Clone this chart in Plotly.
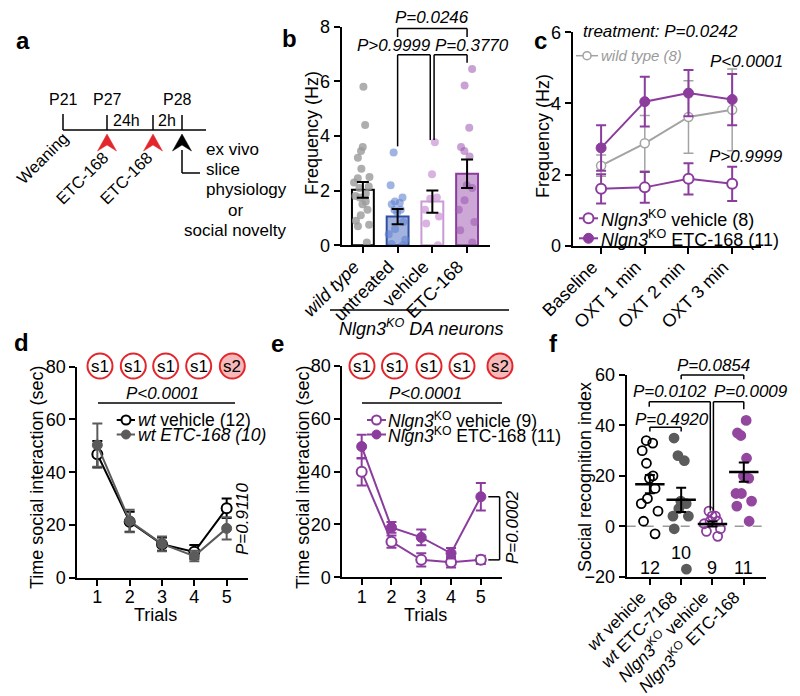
import plotly.graph_objects as go

W, H = 800, 696
FONT = "Liberation Sans, Arial, Helvetica, sans-serif"
GRAY = "#a3a3a3"
DGRAY = "#5b5b5b"
PURPLE = "#8b3c9d"
LPURPLE = "#c99bd5"
RED = "#e3262b"

# ---------------- data ----------------
# panel b
b_groups = ["<i>wild type</i>", "untreated", "vehicle", "ETC-168"]
b_mean = [2.03, 1.05, 1.60, 2.62]
b_sem = [0.29, 0.28, 0.41, 0.52]
b_wild_type = [5.8, 4.4, 3.6, 3.45, 3.2, 2.8, 2.5, 2.45, 2.3, 2.15, 2.1, 1.9,
               1.8, 1.75, 1.6, 1.5, 1.3, 1.1, 0.9, 0.75, 0.7, 0.1]
b_untreated = [3.4, 2.2, 1.75, 1.6, 1.55, 1.5, 1.3, 1.3, 1.2, 0.85, 0.6, 0.4, 0.2, 0.05, 0.0]
b_vehicle = [3.77, 2.6, 1.75, 1.7, 1.3, 1.05, 0.8, 0.0]
b_etc168 = [6.45, 5.85, 4.3, 3.6, 3.45, 3.25, 2.2, 2.1, 1.65, 1.3, 0.85, 0.55, 0.1]

# panel c
c_times = ["Baseline", "OXT 1 min", "OXT 2 min", "OXT 3 min"]
c_wt_mean = [2.25, 2.88, 3.62, 3.82]
c_wt_sem = [0.30, 0.78, 1.02, 1.15]
c_veh_mean = [1.60, 1.64, 1.88, 1.74]
c_veh_sem = [0.41, 0.43, 0.44, 0.48]
c_etc_mean = [2.75, 4.05, 4.29, 4.11]
c_etc_sem = [0.64, 0.70, 0.65, 0.72]

# panel d
trials = [1, 2, 3, 4, 5]
d_veh_mean = [46.8, 21.2, 12.7, 9.8, 26.3]
d_veh_sem = [5.0, 3.8, 2.5, 2.6, 3.7]
d_etc_mean = [50.3, 21.5, 12.8, 8.2, 18.7]
d_etc_sem = [8.2, 4.3, 2.8, 2.0, 4.2]

# panel e
e_veh_mean = [40.0, 13.5, 6.6, 5.7, 6.6]
e_veh_sem = [5.2, 2.3, 2.5, 2.0, 1.6]
e_etc_mean = [49.5, 18.9, 15.1, 9.1, 30.5]
e_etc_sem = [4.5, 2.0, 3.0, 2.0, 5.2]

# panel f
f_groups = ["<i>wt</i> vehicle", "<i>wt</i> ETC-7168",
            "<i>Nlgn3</i><sup>KO</sup> vehicle", "<i>Nlgn3</i><sup>KO</sup> ETC-168"]
f_wt_vehicle = [34, 33, 30, 25, 20, 19, 15, 11, 9, 6, 2, -3]
f_wt_etc = [35, 28, 26, 10, 9, 7, 4, 4, -1, -17]
f_ko_vehicle = [6, 4, 4, 2, 2, 1, -1, -2, -4]
f_ko_etc = [42, 37, 36, 27, 20, 19, 13, 13, 10, 8, 2]
f_mean = [16.7, 10.5, 0.9, 21.5]
f_sem = [3.6, 4.8, 1.0, 3.8]
f_n = ["12", "10", "9", "11"]


# ---------------- helpers ----------------
class Panel:
    def __init__(self, n, xpx, xr, ypx, yr):
        self.n = n
        self.xpx, self.xr, self.ypx, self.yr = xpx, xr, ypx, yr
        self.xa = "x" if n == 1 else f"x{n}"
        self.ya = "y" if n == 1 else f"y{n}"

    def X(self, v):
        (p0, p1), (r0, r1) = self.xpx, self.xr
        return p0 + (v - r0) / (r1 - r0) * (p1 - p0)

    def Y(self, v):
        (p0, p1), (r0, r1) = self.ypx, self.yr
        return p0 + (v - r0) / (r1 - r0) * (p1 - p0)


pb = Panel(1, (341.7, 490), (-0.61, 3.66), (245.3, 26.7), (0, 8))
pc = Panel(2, (572.7, 761), (-0.65, 3.66), (245.7, 32.3), (0, 6))
pd = Panel(3, (77.3, 248), (0.38, 5.66), (577.7, 366.7), (0, 80))
pe = Panel(4, (342.3, 501.7), (0.35, 5.7), (577.3, 366), (0, 80))
pf = Panel(5, (626.7, 765.7), (-0.74, 3.7), (576.7, 375), (-20, 60))

shapes = []
annotations = []


def P(x, y):
    return x / W, 1 - y / H


def line_px(x0, y0, x1, y1, color="black", width=1.5, dash=None, layer="above"):
    a, b = P(x0, y0)
    c, d = P(x1, y1)
    shapes.append(dict(type="line", xref="paper", yref="paper", x0=a, y0=b, x1=c, y1=d,
                       layer=layer, line=dict(color=color, width=width, dash=dash)))


def poly_px(points, color="black", width=1.5):
    for (x0, y0), (x1, y1) in zip(points[:-1], points[1:]):
        line_px(x0, y0, x1, y1, color=color, width=width)


def circle_px(cx, cy, r, color, fill="white", width=1.5):
    shapes.append(dict(type="circle", xref="paper", yref="paper",
                       x0=(cx - r) / W, x1=(cx + r) / W,
                       y0=1 - (cy + r) / H, y1=1 - (cy - r) / H,
                       fillcolor=fill, line=dict(color=color, width=width)))


def arrow_px(x, ytip, color):
    pts = [(x, ytip), (x + 9.5, ytip + 17), (x, ytip + 11), (x - 9.5, ytip + 17)]
    path = "M " + " L ".join(f"{px / W:.5f},{1 - py / H:.5f}" for px, py in pts) + " Z"
    shapes.append(dict(type="path", xref="paper", yref="paper", path=path,
                       fillcolor=color, line=dict(color=color, width=0.5)))


def text_px(x, y, s, size=17, xanchor="center", yanchor="middle", angle=0, color="black"):
    a, b = P(x, y)
    annotations.append(dict(xref="paper", yref="paper", x=a, y=b, text=s, showarrow=False,
                            xanchor=xanchor, yanchor=yanchor, textangle=angle,
                            font=dict(size=size, color=color, family=FONT)))


traces = []

# ---------------- panel b ----------------
b_idx = list(range(len(b_groups)))
traces.append(go.Bar(x=b_idx, y=b_mean, width=0.63, xaxis=pb.xa, yaxis=pb.ya,
                     marker=dict(color=["white", "#a2b3e0", "white", "#cda8d6"],
                                 line=dict(color=["black", "#2f4f9f", LPURPLE, PURPLE], width=2))))
b_pts = [(b_wild_type, "#9a9a9a", 0.8), (b_untreated, "#5f82d0", 0.6),
         (b_vehicle, "#cf9fdb", 0.8), (b_etc168, "#9c55b0", 0.55)]
for i, (vals, col, op) in enumerate(b_pts):
    traces.append(go.Box(x=[i] * len(vals), y=vals, boxpoints="all", jitter=1, pointpos=0,
                         width=0.62, fillcolor="rgba(0,0,0,0)", line=dict(width=0, color="rgba(0,0,0,0)"),
                         marker=dict(color=col, size=8, opacity=op), xaxis=pb.xa, yaxis=pb.ya))
traces.append(go.Scatter(x=b_idx, y=b_mean, mode="markers", marker=dict(size=1, color="rgba(0,0,0,0)"),
                         error_y=dict(type="data", array=b_sem, color="black", thickness=2, width=6),
                         xaxis=pb.xa, yaxis=pb.ya))

# brackets b
yt, yt2 = pb.Y(7.93), pb.Y(7.62)
poly_px([(pb.X(1), yt2), (pb.X(1), yt), (pb.X(3), yt), (pb.X(3), yt2)])
y2 = pb.Y(6.97)
poly_px([(pb.X(1), pb.Y(3.62)), (pb.X(1), y2), (pb.X(1.94), y2), (pb.X(1.94), pb.Y(3.85))])
poly_px([(pb.X(2.05), pb.Y(3.85)), (pb.X(2.05), y2), (pb.X(3), y2), (pb.X(3), pb.Y(6.68))])
text_px(pb.X(2), 18, "<i>P=0.0246</i>")
text_px(394, 45, "<i>P&gt;0.9999</i>")
text_px(472, 45, "<i>P=0.3770</i>")
line_px(330, 310, 509, 310, width=1.5)
text_px(421, 327, "<i>Nlgn3<sup>KO</sup> DA neurons</i>", size=18)
text_px(312, 133, "Frequency (Hz)", size=18, angle=-90)

# ---------------- panel c ----------------
c_idx = list(range(len(c_times)))
traces.append(go.Scatter(x=c_idx, y=c_wt_mean, mode="lines+markers", xaxis=pc.xa, yaxis=pc.ya,
                         line=dict(color=GRAY, width=2),
                         marker=dict(symbol="circle", size=9, color="white", line=dict(color=GRAY, width=1.5)),
                         error_y=dict(type="data", array=c_wt_sem, color=GRAY, thickness=1.5, width=5)))
traces.append(go.Scatter(x=c_idx, y=c_veh_mean, mode="lines+markers", xaxis=pc.xa, yaxis=pc.ya,
                         line=dict(color=PURPLE, width=2),
                         marker=dict(symbol="circle", size=10, color="white", line=dict(color=PURPLE, width=2)),
                         error_y=dict(type="data", array=c_veh_sem, color=PURPLE, thickness=2, width=5)))
traces.append(go.Scatter(x=c_idx, y=c_etc_mean, mode="lines+markers", xaxis=pc.xa, yaxis=pc.ya,
                         line=dict(color=PURPLE, width=2),
                         marker=dict(symbol="circle", size=10, color=PURPLE, line=dict(color=PURPLE, width=1)),
                         error_y=dict(type="data", array=c_etc_sem, color=PURPLE, thickness=2, width=5)))
text_px(660, 32, "<i>treatment: P=0.0242</i>")
text_px(746, 61, "<i>P&lt;0.0001</i>")
text_px(746, 157, "<i>P&gt;0.9999</i>")
line_px(576, 55.7, 598, 55.7, color=GRAY, width=1.5)
circle_px(587, 55.7, 4, GRAY)
text_px(599, 55.7, "<i>wild type (8)</i>", size=15, xanchor="left", color="#9a9a9a")
line_px(579, 218.3, 598, 218.3, color=PURPLE, width=2)
circle_px(588.5, 218.3, 5, PURPLE, width=2)
text_px(599, 218.3, "<i>Nlgn3</i><sup>KO</sup> vehicle (8)", size=18, xanchor="left")
line_px(579, 238.3, 598, 238.3, color=PURPLE, width=2)
circle_px(588.5, 238.3, 5, PURPLE, fill=PURPLE, width=1)
text_px(599, 238.3, "<i>Nlgn3</i><sup>KO</sup> ETC-168 (11)", size=18, xanchor="left")
text_px(543, 136, "Frequency (Hz)", size=18, angle=-90)

# ---------------- panel d ----------------
traces.append(go.Scatter(x=trials, y=d_veh_mean, mode="lines+markers", xaxis=pd.xa, yaxis=pd.ya,
                         line=dict(color="black", width=2),
                         marker=dict(symbol="circle", size=10, color="white", line=dict(color="black", width=2)),
                         error_y=dict(type="data", array=d_veh_sem, color="black", thickness=2, width=5)))
traces.append(go.Scatter(x=trials, y=d_etc_mean, mode="lines+markers", xaxis=pd.xa, yaxis=pd.ya,
                         line=dict(color=DGRAY, width=2),
                         marker=dict(symbol="circle", size=10, color=DGRAY, line=dict(color=DGRAY, width=1)),
                         error_y=dict(type="data", array=d_etc_sem, color=DGRAY, thickness=2, width=5)))
text_px(162, 393, "<i>P&lt;0.0001</i>")
line_px(98, 403, 235, 403)
line_px(116.7, 420, 135, 420, color="black", width=2)
circle_px(126, 420, 4.5, "black", width=2)
text_px(136, 420, "<i>wt</i> vehicle (12)", size=17.5, xanchor="left")
line_px(116.7, 434.5, 135, 434.5, color=DGRAY, width=2)
circle_px(126, 434.5, 4.5, DGRAY, fill=DGRAY, width=1)
text_px(136, 434.5, "<i>wt ETC-168 (10)</i>", size=17.5, xanchor="left")
text_px(242, 519, "<i>P=0.9110</i>", angle=-90)
text_px(37, 478, "Time social interaction (sec)", size=18, angle=-90)
text_px(155, 615, "Trials", size=18)
for cx, lab in zip([100, 133.3, 165.7, 198.7, 232.3], ["s1", "s1", "s1", "s1", "s2"]):
    circle_px(cx, 366, 12.5, RED, fill="#f6b9b9" if lab == "s2" else "white", width=2)
    text_px(cx, 366, lab, size=17)

# ---------------- panel e ----------------
traces.append(go.Scatter(x=trials, y=e_veh_mean, mode="lines+markers", xaxis=pe.xa, yaxis=pe.ya,
                         line=dict(color=PURPLE, width=2),
                         marker=dict(symbol="circle", size=10, color="white", line=dict(color=PURPLE, width=2)),
                         error_y=dict(type="data", array=e_veh_sem, color=PURPLE, thickness=2, width=5)))
traces.append(go.Scatter(x=trials, y=e_etc_mean, mode="lines+markers", xaxis=pe.xa, yaxis=pe.ya,
                         line=dict(color=PURPLE, width=2),
                         marker=dict(symbol="circle", size=10, color=PURPLE, line=dict(color=PURPLE, width=1)),
                         error_y=dict(type="data", array=e_etc_sem, color=PURPLE, thickness=2, width=5)))
text_px(425, 393, "<i>P&lt;0.0001</i>")
line_px(362, 403, 502, 403)
line_px(367, 420, 386, 420, color=PURPLE, width=2)
circle_px(376.5, 420, 4.5, PURPLE, width=2)
text_px(386, 420, "<i>Nlgn3</i><sup>KO</sup> vehicle (9)", size=17.5, xanchor="left")
line_px(367, 434.5, 386, 434.5, color=PURPLE, width=2)
circle_px(376.5, 434.5, 4.5, PURPLE, fill=PURPLE, width=1)
text_px(386, 434.5, "<i>Nlgn3</i><sup>KO</sup> ETC-168 (11)", size=17.5, xanchor="left")
bx, bx0 = pe.X(5.63), pe.X(5.25)
poly_px([(bx0, pe.Y(e_etc_mean[4])), (bx, pe.Y(e_etc_mean[4])), (bx, pe.Y(e_veh_mean[4])),
         (bx0, pe.Y(e_veh_mean[4]))])
text_px(512, 527, "<i>P=0.0002</i>", angle=-90)
text_px(303, 478, "Time social interaction (sec)", size=18, angle=-90)
text_px(425, 615, "Trials", size=18)
for cx, lab in zip([362, 394.5, 429, 462, 500], ["s1", "s1", "s1", "s1", "s2"]):
    circle_px(cx, 366, 12.5, RED, fill="#f6b9b9" if lab == "s2" else "white", width=2)
    text_px(cx, 366, lab, size=17)

# ---------------- panel f ----------------
f_idx = list(range(len(f_groups)))
line_px(pf.xpx[0], pf.Y(0), pf.xpx[1], pf.Y(0), color="#9a9a9a", width=1.5, dash="dash", layer="below")
f_pts = [(f_wt_vehicle, "black", "circle-open"), (f_wt_etc, DGRAY, "circle"),
         (f_ko_vehicle, PURPLE, "circle-open"), (f_ko_etc, "#93479f", "circle")]
for i, (vals, col, sym) in enumerate(f_pts):
    traces.append(go.Box(x=[i] * len(vals), y=vals, boxpoints="all", jitter=1, pointpos=0,
                         width=0.7, fillcolor="rgba(0,0,0,0)", line=dict(width=0, color="rgba(0,0,0,0)"),
                         marker=dict(color=col, size=9, symbol=sym, line=dict(width=1.8, color=col)),
                         xaxis=pf.xa, yaxis=pf.ya))
traces.append(go.Scatter(x=f_idx, y=f_mean, mode="markers", xaxis=pf.xa, yaxis=pf.ya,
                         marker=dict(symbol="line-ew", size=21, line=dict(color="black", width=2.5)),
                         error_y=dict(type="data", array=f_sem, color="black", thickness=2, width=5)))
for i, lab in enumerate(f_n):
    text_px(pf.X(i), 553 if lab == "10" else 568, lab, size=18)
# brackets f
y49, ylow = pf.Y(49.4), pf.Y(6.2)
poly_px([(pf.X(0), pf.Y(37.6)), (pf.X(0), pf.Y(39.3)), (pf.X(1), pf.Y(39.3)), (pf.X(1), pf.Y(37.6))])
poly_px([(pf.X(-0.02), pf.Y(47.4)), (pf.X(-0.02), y49), (pf.X(1.93), y49), (pf.X(1.93), ylow)])
poly_px([(pf.X(2.03), ylow), (pf.X(2.03), y49), (pf.X(3), y49), (pf.X(3), pf.Y(46.4))])
poly_px([(pf.X(1), pf.Y(58.3)), (pf.X(1), pf.Y(60)), (pf.X(3), pf.Y(60)), (pf.X(3), pf.Y(58.3))])
text_px(672, 419, "<i>P=0.4920</i>")
text_px(670, 391.5, "<i>P=0.0102</i>")
text_px(751, 391.5, "<i>P=0.0009</i>")
text_px(713, 365, "<i>P=0.0854</i>")
text_px(585, 477, "Social recognition index", size=18, angle=-90)

# ---------------- panel a (schematic) ----------------
text_px(63, 99, "P21", size=16)
text_px(107, 99, "P27", size=16)
text_px(177, 99, "P28", size=16)
line_px(63, 130, 206, 130)
line_px(63, 114, 63, 130)
line_px(107, 115, 107, 130)
line_px(153, 115, 153, 130)
line_px(182, 115, 182, 130)
text_px(126, 121, "24h", size=16)
text_px(167, 121, "2h", size=16)
arrow_px(107, 134, RED)
arrow_px(153, 134, RED)
arrow_px(182, 134, "black")
poly_px([(182, 150), (182, 173), (200, 173)])
text_px(42.5, 158, "Weaning", size=16.5, angle=-45)
text_px(82, 178, "ETC-168", size=16.5, angle=-45)
text_px(126, 178, "ETC-168", size=16.5, angle=-45)
text_px(204, 150, "ex vivo", size=17, xanchor="left")
text_px(204, 170, "slice", size=17, xanchor="left")
text_px(204, 190, "physiology", size=17, xanchor="left")
text_px(235, 211, "or", size=17)
text_px(182, 231, "social novelty", size=17, xanchor="left")

# panel letters
for lab, x, y in [("a", 23, 40), ("b", 289, 38), ("c", 540, 40),
                  ("d", 21, 342), ("e", 277, 344), ("f", 553, 343)]:
    text_px(x, y, f"<b>{lab}</b>", size=24)

# ---------------- layout ----------------
base = dict(showline=True, linecolor="black", linewidth=2, ticks="outside", ticklen=6, tickwidth=2,
            tickcolor="black", showgrid=False, zeroline=False, fixedrange=True, automargin=False,
            tickfont=dict(size=18, family=FONT, color="black"))

layout = dict(width=W, height=H, margin=dict(l=0, r=0, t=0, b=0, pad=0, autoexpand=False),
              showlegend=False, paper_bgcolor="white", plot_bgcolor="rgba(0,0,0,0)",
              font=dict(family=FONT, color="black"), shapes=shapes, annotations=annotations)


def add_axes(p, xkw, ykw):
    kx = "xaxis" if p.n == 1 else f"xaxis{p.n}"
    ky = "yaxis" if p.n == 1 else f"yaxis{p.n}"
    layout[kx] = dict(base, domain=[p.xpx[0] / W, p.xpx[1] / W], range=list(p.xr), anchor=p.ya, **xkw)
    layout[ky] = dict(base, domain=[1 - p.ypx[0] / H, 1 - p.ypx[1] / H], range=list(p.yr), anchor=p.xa, **ykw)


rot = dict(tickangle=-45, ticklabelshift=-9, ticklabelstandoff=-4)
add_axes(pb, dict(tickvals=b_idx, ticktext=b_groups, **rot), dict(tickvals=[0, 2, 4, 6, 8]))
add_axes(pc, dict(tickvals=c_idx, ticktext=c_times, **rot), dict(tickvals=[0, 2, 4, 6]))
add_axes(pd, dict(tickvals=trials, tickangle=0, ticklabelstandoff=-4), dict(tickvals=[0, 20, 40, 60, 80]))
add_axes(pe, dict(tickvals=trials, tickangle=0, ticklabelstandoff=-4), dict(tickvals=[0, 20, 40, 60, 80]))
add_axes(pf, dict(tickvals=f_idx, ticktext=f_groups, tickfont=dict(size=17, family=FONT, color="black"), **rot),
         dict(tickvals=[-20, 0, 20, 40, 60]))

fig = go.Figure(data=traces, layout=layout)
fig.write_html("out.html", config={"displayModeBar": False},
               post_script="document.body.style.margin='0';document.body.style.overflow='hidden';")
